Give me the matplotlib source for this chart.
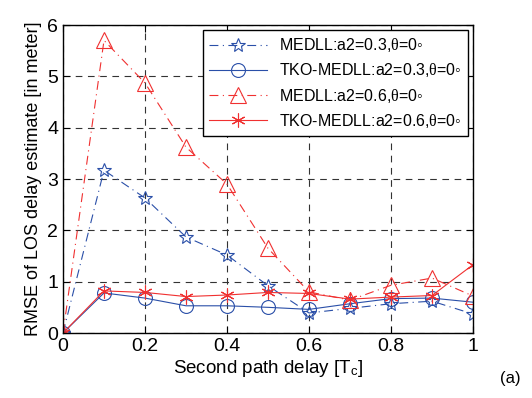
import matplotlib
matplotlib.use('Agg')
import matplotlib.pyplot as plt
import numpy as np

plt.rcParams['font.family'] = ['Liberation Sans', 'DejaVu Sans']
plt.rcParams['mathtext.fontset'] = 'custom'
plt.rcParams['mathtext.rm'] = 'Liberation Sans'
plt.rcParams['mathtext.it'] = 'Liberation Serif'

delay = [0, 0.1, 0.2, 0.3, 0.4, 0.5, 0.6, 0.7, 0.8, 0.9, 1.0]
medll_03 = [0, 3.17, 2.63, 1.87, 1.52, 0.92, 0.39, 0.48, 0.57, 0.62, 0.37]
tko_03 = [0, 0.78, 0.68, 0.53, 0.53, 0.50, 0.46, 0.57, 0.67, 0.68, 0.60]
medll_06 = [0, 5.70, 4.87, 3.62, 2.90, 1.65, 0.80, 0.64, 0.93, 1.07, 0.72]
tko_06 = [0, 0.82, 0.79, 0.71, 0.74, 0.79, 0.77, 0.66, 0.70, 0.73, 1.33]

labels = ['MEDLL:a2=0.3,$\\theta$=0\u25e6',
          'TKO-MEDLL:a2=0.3,$\\theta$=0\u25e6',
          'MEDLL:a2=0.6,$\\theta$=0\u25e6',
          'TKO-MEDLL:a2=0.6,$\\theta$=0\u25e6']

blue = '#2a4fa8'
red = '#f03030'

fig = plt.figure(figsize=(5.32, 3.98), dpi=100)
ax = fig.add_axes([63/532, 1-333/398, 410/532, 308/398])

ax.plot(delay, medll_03, color=blue, ls=(0, (8, 4, 1, 4)), lw=0.8, marker='*',
        ms=10, mfc='none', mew=0.8, label=labels[0])
ax.plot(delay, tko_03, color=blue, ls='-', lw=0.8, marker='o',
        ms=10, mfc='none', mew=0.8, label=labels[1])
ax.plot(delay, medll_06, color=red, ls=(0, (8, 4, 1, 4)), lw=0.8, marker='^',
        ms=12, mfc='none', mew=0.8, label=labels[2])
ax.plot(delay, tko_06, color=red, ls='-', lw=0.8, marker=(6, 2, 0),
        ms=10, mew=0.8, label=labels[3])

ax.set_xlim(0, 1)
ax.set_ylim(0, 6)
ax.set_xticks([0, 0.2, 0.4, 0.6, 0.8, 1])
ax.set_xticklabels(['0', '0.2', '0.4', '0.6', '0.8', '1'])
ax.set_yticks(range(7))
ax.tick_params(direction='in', top=True, right=True, labelsize=14, length=5)
ax.grid(True, color='#333333', ls=(0, (6, 5)), lw=0.8)
for s in ax.spines.values():
    s.set_linewidth(1.0)

ax.set_xlabel('Second path delay [T$_\\mathregular{c}$]', fontsize=13.5, labelpad=2)
ax.set_ylabel('RMSE of LOS delay estimate [in meter]', fontsize=13)

leg = ax.legend(loc='upper right', fontsize=11.5, fancybox=False,
                framealpha=1, edgecolor='k', handlelength=3.6,
                borderaxespad=0.3, labelspacing=0.45)
leg.get_frame().set_linewidth(1.0)

fig.text(500/532, 1-378/398, '(a)', fontsize=12, ha='left', va='center')

fig.savefig('out.png', dpi=100)
